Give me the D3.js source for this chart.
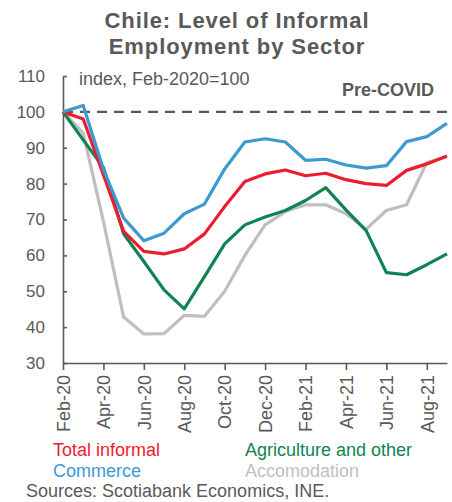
<!DOCTYPE html>
<html>
<head>
<meta charset="utf-8">
<script src="https://cdn.jsdelivr.net/npm/d3@7"></script>
<style>
  html, body { margin: 0; padding: 0; background: #fff; }
  svg { display: block; font-family: Arial, "Liberation Sans", sans-serif; }
</style>
</head>
<body>
<svg id="chart" width="452" height="502"></svg>
<script>
// Monthly index of informal employment, Feb-2020 = 100
const months = ["Feb-20","Mar-20","Apr-20","May-20","Jun-20","Jul-20","Aug-20","Sep-20","Oct-20","Nov-20",
                "Dec-20","Jan-21","Feb-21","Mar-21","Apr-21","May-21","Jun-21","Jul-21","Aug-21","Sep-21"];
const totalInformal = [100, 98.0, 82.5, 66.7, 61.1, 60.4, 61.8, 66.0, 73.6, 80.6,
                       82.7, 83.8, 82.2, 82.9, 81.1, 80.0, 79.5, 83.7, 85.5, 87.7];
const commerce      = [100, 101.8, 84.0, 70.4, 64.1, 66.2, 71.6, 74.3, 84.1, 91.6,
                       92.5, 91.6, 86.5, 86.8, 85.2, 84.3, 85.0, 91.7, 93.1, 96.8];
const agriculture   = [100, 92.2, 84.5, 66.0, 58.3, 50.4, 45.1, 54.1, 63.2, 68.5,
                       70.7, 72.5, 75.3, 78.9, 72.7, 66.9, 55.2, 54.6, 57.4, 60.4];
const accomodation  = [100, 94.1, 69.5, 42.8, 38.1, 38.2, 43.3, 43.0, 50.0, 60.0,
                       68.5, 72.2, 74.1, 74.1, 71.6, 67.3, 72.5, 74.1, 85.9, 87.5];
const yTicks = [30, 40, 50, 60, 70, 80, 90, 100, 110];
const xTickLabels = ["Feb-20","Apr-20","Jun-20","Aug-20","Oct-20","Dec-20","Feb-21","Apr-21","Jun-21","Aug-21"];
const preCovidLevel = 100;

const series = [
  { name: "Total informal",       values: totalInformal, color: "#EC1C2E" },
  { name: "Commerce",             values: commerce,      color: "#3D9AD1" },
  { name: "Agriculture and other",values: agriculture,   color: "#0F8450" },
  { name: "Accomodation",         values: accomodation,  color: "#BFBFBF" }
];
const drawOrder = [3, 2, 0, 1];
const axisColor = "#595959";

const svg = d3.select("#chart");
const x = d3.scalePoint().domain(months).range([63, 447]);
const y = d3.scaleLinear().domain([30, 110]).range([363, 76]);

// Title
const title = svg.append("text")
  .attr("x", 237).attr("text-anchor", "middle")
  .attr("fill", axisColor).attr("font-weight", "bold")
  .attr("font-size", 22).attr("letter-spacing", 0.9);
title.append("tspan").attr("x", 237).attr("y", 28).text("Chile: Level of Informal");
title.append("tspan").attr("x", 237).attr("y", 54).text("Employment by Sector");

// Y axis
const yAxis = svg.append("g")
  .attr("transform", `translate(${x(months[0])},0)`)
  .call(d3.axisLeft(y).tickValues(yTicks).tickSizeInner(-4).tickSizeOuter(0).tickPadding(18));
yAxis.selectAll("text").attr("fill", axisColor).attr("font-size", 17)
  .attr("font-family", "Arial, 'Liberation Sans', sans-serif");

// X axis
const xAxis = svg.append("g")
  .attr("transform", `translate(0,${y(30)})`)
  .call(d3.axisBottom(x).tickValues(xTickLabels).tickSizeInner(7).tickSizeOuter(0));
xAxis.selectAll("text")
  .attr("transform", "rotate(-90)")
  .attr("x", -12).attr("y", 0).attr("dy", "0.35em")
  .style("text-anchor", "end")
  .attr("fill", axisColor).attr("font-size", 18)
  .attr("font-family", "Arial, 'Liberation Sans', sans-serif");

[yAxis, xAxis].forEach(g => {
  g.select(".domain").attr("stroke", axisColor).attr("stroke-width", 1.6);
  g.selectAll(".tick line").attr("stroke", axisColor).attr("stroke-width", 1.6);
});

// Pre-COVID reference line
svg.append("line")
  .attr("x1", x(months[0])).attr("x2", 447)
  .attr("y1", y(preCovidLevel)).attr("y2", y(preCovidLevel))
  .attr("stroke", axisColor).attr("stroke-width", 2.4)
  .attr("stroke-dasharray", "10,7");

svg.append("text")
  .attr("x", 434).attr("y", 96).attr("text-anchor", "end")
  .attr("fill", axisColor).attr("font-weight", "bold").attr("font-size", 18)
  .text("Pre-COVID");

svg.append("text")
  .attr("x", 79).attr("y", 85)
  .attr("fill", axisColor).attr("font-size", 18)
  .text("index, Feb-2020=100");

// Series lines
const line = d3.line()
  .x((d, i) => x(months[i]))
  .y(d => y(d));

drawOrder.forEach(k => {
  const s = series[k];
  svg.append("path")
    .datum(s.values)
    .attr("fill", "none")
    .attr("stroke", s.color)
    .attr("stroke-width", 3.2)
    .attr("stroke-linejoin", "round")
    .attr("d", line);
});

// Legend
const legendPos = [[53, 456], [53, 477], [245, 456], [245, 477]];
const legendOrder = [0, 1, 2, 3];
legendOrder.forEach((k, i) => {
  svg.append("text")
    .attr("x", legendPos[i][0]).attr("y", legendPos[i][1])
    .attr("fill", series[k].color).attr("font-size", 18)
    .text(series[k].name);
});

svg.append("text")
  .attr("x", 26).attr("y", 497)
  .attr("fill", axisColor).attr("font-size", 18)
  .text("Sources: Scotiabank Economics, INE.");
</script>
</body>
</html>
